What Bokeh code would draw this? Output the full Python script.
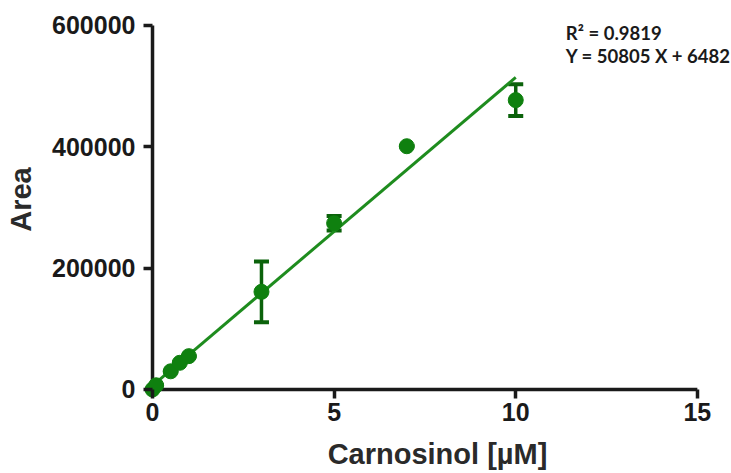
from bokeh.plotting import figure
from bokeh.models import Range1d, Whisker, TeeHead, ColumnDataSource, Label, FixedTicker, BasicTickFormatter
from bokeh.embed import file_html
from bokeh.resources import INLINE

conc = [0, 0.1, 0.5, 0.75, 1, 3, 5, 7, 10]
area = [0, 7000, 30000, 44000, 55000, 161000, 274000, 401000, 477000]
err = [0, 0, 0, 0, 0, 50000, 12000, 0, 26000]
slope = 50805
intercept = 6482
r2 = 0.9819
x_ticks = [0, 5, 10, 15]
y_ticks = [0, 200000, 400000, 600000]

GREEN = "#0f800f"
DARK = "#0b620b"
LINE = "#1e8c1e"
AXIS = "#1a1a1a"

p = figure(width=731, height=473, output_backend="svg", toolbar_location=None,
           x_range=Range1d(-0.248, 15.94), y_range=Range1d(-14840, 641200),
           min_border_left=143, min_border_top=0, min_border_right=0, min_border_bottom=75,
           frame_width=588, frame_height=398)
p.outline_line_color = None
p.grid.grid_line_color = None
p.background_fill_color = "white"
p.border_fill_color = "white"

# axis lines at data zero
p.line([x_ticks[0], x_ticks[-1]], [y_ticks[0], y_ticks[0]], line_color=AXIS, line_width=3.5)
p.line([x_ticks[0], x_ticks[0]], [y_ticks[0], y_ticks[-1]], line_color=AXIS, line_width=3.5)

fit_x = [0, 10]
fit_y = [slope * v + intercept for v in fit_x]
p.line(fit_x, fit_y, line_color=LINE, line_width=3)

src = ColumnDataSource(dict(x=conc, y=area,
                            lo=[a - e for a, e in zip(area, err)],
                            hi=[a + e for a, e in zip(area, err)]))
w = Whisker(source=src, base="x", lower="lo", upper="hi", line_color=DARK, line_width=3.5,
            upper_head=TeeHead(size=15, line_color=DARK, line_width=4),
            lower_head=TeeHead(size=15, line_color=DARK, line_width=4))
p.add_layout(w)
p.scatter("x", "y", source=src, size=15, fill_color=GREEN, line_color=GREEN)

for ax in (p.xaxis[0], p.yaxis[0]):
    ax.axis_line_color = None
    ax.major_tick_line_width = 3.5
    ax.major_tick_line_color = AXIS
    ax.major_tick_out = 0
    ax.major_tick_in = 9
    ax.minor_tick_line_color = None
    ax.major_label_text_font = "Liberation Sans"
    ax.major_label_text_font_style = "bold"
    ax.major_label_text_font_size = "25px"
    ax.major_label_text_color = AXIS
    ax.axis_label_text_font = "Liberation Sans"
    ax.axis_label_text_font_style = "bold"
    ax.axis_label_text_font_size = "29px"
    ax.axis_label_text_color = "#2a2a2a"

p.xaxis.ticker = FixedTicker(ticks=x_ticks)
p.yaxis.ticker = FixedTicker(ticks=y_ticks)
p.yaxis.formatter = BasicTickFormatter(use_scientific=False)
p.xaxis.axis_label = "Carnosinol [µM]"
p.yaxis.axis_label = "Area"
p.yaxis.major_label_orientation = "horizontal"
p.xaxis.major_label_standoff = 4
p.yaxis.major_label_standoff = 8
p.xaxis.axis_label_standoff = 14
p.yaxis.axis_label_standoff = 12

p.add_layout(Label(x=11.38, y=588000, text=f"R² = {r2}", text_font="Lato",
                   text_font_style="bold", text_font_size="18.5px", text_color=AXIS,
                   text_baseline="middle"))
p.add_layout(Label(x=11.38, y=550000, text=f"Y = {slope} X + {intercept}", text_font="Lato",
                   text_font_style="bold", text_font_size="18.5px", text_color=AXIS,
                   text_baseline="middle"))

open("out.html", "w").write(file_html(p, INLINE))
